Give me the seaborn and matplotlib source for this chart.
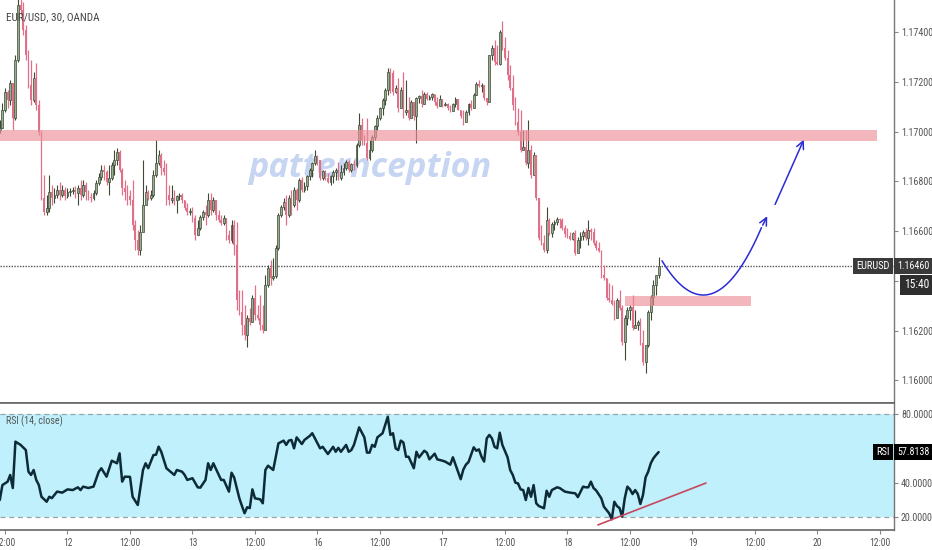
import numpy as np
import matplotlib
matplotlib.use("Agg")
import matplotlib.pyplot as plt
import matplotlib.transforms as mtransforms
import matplotlib.font_manager as fm
from matplotlib.patches import Rectangle
import seaborn as sns

# ---------------- data ----------------
bar_start = -2
first_open = 1.17006
closes = [
    1.17014, 1.17087, 1.17159, 1.17127, 1.17195, 1.17055, 1.17288, 1.17509, 1.17489, 1.17408,
    1.17308, 1.17187, 1.17127, 1.17216, 1.17107, 1.16998, 1.16733, 1.16677, 1.16693, 1.16757,
    1.16733, 1.16745, 1.16765, 1.16745, 1.16765, 1.16741, 1.16757, 1.16761, 1.16765, 1.16753,
    1.16773, 1.16745, 1.16785, 1.16757, 1.16737, 1.16733, 1.16753, 1.16793, 1.16818, 1.16846,
    1.16838, 1.16797, 1.16814, 1.16866, 1.16886, 1.16918, 1.16846, 1.16773, 1.16757, 1.16741,
    1.16725, 1.16625, 1.16564, 1.16524, 1.16596, 1.16705, 1.16757, 1.16733, 1.16745, 1.16826,
    1.16874, 1.16906, 1.16854, 1.16838, 1.16745, 1.16725, 1.16733, 1.16725, 1.16741, 1.16745,
    1.16725, 1.16693, 1.16677, 1.16681, 1.16653, 1.16584, 1.16613, 1.16657, 1.16677, 1.16665,
    1.16725, 1.16685, 1.16725, 1.16665, 1.16645, 1.16633, 1.16653, 1.16584, 1.16564, 1.16625,
    1.16544, 1.16323, 1.16275, 1.16223, 1.16182, 1.16251, 1.16235, 1.16331, 1.16263, 1.16251,
    1.16223, 1.16202, 1.16383, 1.16452, 1.16411, 1.16420, 1.16532, 1.16665, 1.16697, 1.16717,
    1.16665, 1.16733, 1.16705, 1.16765, 1.16725, 1.16805, 1.16765, 1.16781, 1.16822, 1.16846,
    1.16874, 1.16902, 1.16886, 1.16814, 1.16842, 1.16814, 1.16797, 1.16822, 1.16838, 1.16846,
    1.16814, 1.16838, 1.16854, 1.16878, 1.16846, 1.16870, 1.16866, 1.16946, 1.17027, 1.16966,
    1.16954, 1.16894, 1.16926, 1.16978, 1.17022, 1.17055, 1.17095, 1.17127, 1.17167, 1.17240,
    1.17236, 1.17159, 1.17175, 1.17095, 1.17167, 1.17079, 1.17087, 1.17055, 1.17119, 1.17063,
    1.17135, 1.17143, 1.17111, 1.17151, 1.17131, 1.17139, 1.17151, 1.17119, 1.17103, 1.17131,
    1.17107, 1.17111, 1.17095, 1.17083, 1.17111, 1.17131, 1.17087, 1.17063, 1.17039, 1.17079,
    1.17111, 1.17095, 1.17147, 1.17191, 1.17183, 1.17187, 1.17135, 1.17119, 1.17308, 1.17336,
    1.17280, 1.17272, 1.17400, 1.17336, 1.17296, 1.17228, 1.17175, 1.17107, 1.17039, 1.16998,
    1.16926, 1.16938, 1.16874, 1.16926, 1.16826, 1.16906, 1.16733, 1.16572, 1.16552, 1.16524,
    1.16645, 1.16592, 1.16629, 1.16637, 1.16649, 1.16645, 1.16613, 1.16588, 1.16580, 1.16568,
    1.16592, 1.16512, 1.16564, 1.16580, 1.16596, 1.16572, 1.16604, 1.16596, 1.16552, 1.16532,
    1.16520, 1.16424, 1.16411, 1.16331, 1.16323, 1.16307, 1.16251, 1.16323, 1.16291, 1.16154,
    1.16251, 1.16283, 1.16295, 1.16210, 1.16223, 1.16235, 1.16150, 1.16074, 1.16142, 1.16275,
    1.16335, 1.16383, 1.16424, 1.16460,
]
highs = [
    1.17047, 1.17115, 1.17175, 1.17167, 1.17207, 1.17187, 1.17308, 1.17549, 1.17561, 1.17521,
    1.17429, 1.17328, 1.17288, 1.17240, 1.17276, 1.17127, 1.17006, 1.16826, 1.16745, 1.16826,
    1.16785, 1.16773, 1.16785, 1.16797, 1.16785, 1.16777, 1.16773, 1.16773, 1.16777, 1.16781,
    1.16785, 1.16805, 1.16805, 1.16797, 1.16765, 1.16753, 1.16765, 1.16805, 1.16834, 1.16866,
    1.16866, 1.16846, 1.16866, 1.16878, 1.16926, 1.16934, 1.16926, 1.16854, 1.16805, 1.16785,
    1.16765, 1.16805, 1.16645, 1.16604, 1.16625, 1.16886, 1.16785, 1.16765, 1.16765, 1.16846,
    1.16966, 1.16926, 1.16914, 1.16886, 1.16874, 1.16785, 1.16785, 1.16765, 1.16745, 1.16753,
    1.16753, 1.16725, 1.16713, 1.16693, 1.16697, 1.16665, 1.16645, 1.16665, 1.16685, 1.16705,
    1.16753, 1.16753, 1.16737, 1.16725, 1.16685, 1.16665, 1.16665, 1.16653, 1.16604, 1.16645,
    1.16645, 1.16637, 1.16363, 1.16363, 1.16303, 1.16263, 1.16291, 1.16343, 1.16383, 1.16303,
    1.16343, 1.16303, 1.16424, 1.16464, 1.16484, 1.16492, 1.16544, 1.16673, 1.16705, 1.16733,
    1.16745, 1.16745, 1.16765, 1.16777, 1.16773, 1.16814, 1.16818, 1.16797, 1.16826, 1.16854,
    1.16878, 1.16926, 1.16906, 1.16886, 1.16846, 1.16846, 1.16834, 1.16826, 1.16846, 1.16854,
    1.16878, 1.16866, 1.16874, 1.16886, 1.16886, 1.16874, 1.16886, 1.16954, 1.17075, 1.17055,
    1.16986, 1.17055, 1.16966, 1.16986, 1.17027, 1.17067, 1.17099, 1.17135, 1.17175, 1.17256,
    1.17256, 1.17248, 1.17187, 1.17216, 1.17179, 1.17240, 1.17207, 1.17139, 1.17127, 1.17119,
    1.17139, 1.17147, 1.17167, 1.17159, 1.17159, 1.17147, 1.17155, 1.17151, 1.17139, 1.17147,
    1.17131, 1.17119, 1.17115, 1.17107, 1.17115, 1.17139, 1.17131, 1.17087, 1.17087, 1.17087,
    1.17115, 1.17127, 1.17155, 1.17199, 1.17207, 1.17195, 1.17187, 1.17135, 1.17308, 1.17348,
    1.17368, 1.17348, 1.17408, 1.17445, 1.17380, 1.17328, 1.17268, 1.17228, 1.17139, 1.17095,
    1.17087, 1.17006, 1.17006, 1.17047, 1.16946, 1.16918, 1.16906, 1.16733, 1.16625, 1.16584,
    1.16697, 1.16653, 1.16637, 1.16645, 1.16657, 1.16653, 1.16653, 1.16625, 1.16613, 1.16596,
    1.16596, 1.16604, 1.16576, 1.16596, 1.16604, 1.16613, 1.16645, 1.16613, 1.16613, 1.16564,
    1.16556, 1.16524, 1.16464, 1.16411, 1.16391, 1.16383, 1.16323, 1.16331, 1.16363, 1.16303,
    1.16263, 1.16295, 1.16303, 1.16343, 1.16283, 1.16243, 1.16251, 1.16202, 1.16142, 1.16283,
    1.16343, 1.16403, 1.16424, 1.16496,
]
lows = [
    1.16994, 1.17027, 1.17079, 1.17095, 1.17107, 1.17006, 1.17047, 1.17280, 1.17469, 1.17388,
    1.17288, 1.17175, 1.17107, 1.17119, 1.17087, 1.16986, 1.16725, 1.16665, 1.16665, 1.16677,
    1.16705, 1.16713, 1.16733, 1.16725, 1.16737, 1.16725, 1.16733, 1.16741, 1.16749, 1.16733,
    1.16705, 1.16725, 1.16737, 1.16725, 1.16725, 1.16717, 1.16725, 1.16745, 1.16785, 1.16805,
    1.16805, 1.16785, 1.16745, 1.16805, 1.16826, 1.16866, 1.16838, 1.16745, 1.16725, 1.16705,
    1.16705, 1.16604, 1.16524, 1.16504, 1.16504, 1.16596, 1.16705, 1.16725, 1.16725, 1.16737,
    1.16818, 1.16866, 1.16826, 1.16826, 1.16705, 1.16705, 1.16713, 1.16705, 1.16673, 1.16725,
    1.16713, 1.16685, 1.16665, 1.16665, 1.16637, 1.16564, 1.16592, 1.16604, 1.16645, 1.16625,
    1.16657, 1.16665, 1.16677, 1.16645, 1.16637, 1.16625, 1.16625, 1.16564, 1.16552, 1.16552,
    1.16504, 1.16283, 1.16263, 1.16182, 1.16162, 1.16134, 1.16223, 1.16235, 1.16243, 1.16243,
    1.16202, 1.16190, 1.16202, 1.16375, 1.16383, 1.16403, 1.16411, 1.16524, 1.16657, 1.16685,
    1.16625, 1.16657, 1.16665, 1.16697, 1.16685, 1.16717, 1.16757, 1.16757, 1.16765, 1.16805,
    1.16818, 1.16866, 1.16866, 1.16805, 1.16805, 1.16805, 1.16793, 1.16785, 1.16793, 1.16805,
    1.16805, 1.16805, 1.16826, 1.16846, 1.16838, 1.16838, 1.16846, 1.16858, 1.16938, 1.16946,
    1.16946, 1.16886, 1.16886, 1.16918, 1.16966, 1.17006, 1.17047, 1.17067, 1.17107, 1.17147,
    1.17155, 1.17147, 1.17155, 1.17079, 1.17095, 1.17055, 1.17067, 1.17047, 1.17055, 1.17047,
    1.16954, 1.17115, 1.17099, 1.17111, 1.17127, 1.17127, 1.17127, 1.17107, 1.17095, 1.17103,
    1.17099, 1.17103, 1.17087, 1.17079, 1.17083, 1.17099, 1.17087, 1.17055, 1.17027, 1.17039,
    1.17067, 1.17087, 1.17095, 1.17147, 1.17179, 1.17159, 1.17127, 1.17107, 1.17119, 1.17288,
    1.17268, 1.17268, 1.17268, 1.17328, 1.17288, 1.17207, 1.17167, 1.17087, 1.17027, 1.16986,
    1.16918, 1.16926, 1.16866, 1.16854, 1.16814, 1.16826, 1.16725, 1.16564, 1.16544, 1.16516,
    1.16512, 1.16584, 1.16576, 1.16604, 1.16625, 1.16613, 1.16604, 1.16576, 1.16572, 1.16564,
    1.16564, 1.16504, 1.16512, 1.16532, 1.16564, 1.16564, 1.16544, 1.16564, 1.16544, 1.16524,
    1.16516, 1.16411, 1.16403, 1.16323, 1.16315, 1.16303, 1.16243, 1.16251, 1.16283, 1.16142,
    1.16082, 1.16223, 1.16243, 1.16202, 1.16210, 1.16202, 1.16142, 1.16062, 1.16030, 1.16134,
    1.16243, 1.16303, 1.16343, 1.16411,
]

rsi_idx = [
    -2, -1, 1, 2, 3, 4, 6, 8, 9, 10, 11, 12, 13, 14, 16, 17, 18, 20, 22, 24,
    26, 28, 29, 30, 32, 34, 36, 37, 39, 41, 43, 44, 45, 46, 48, 49, 51, 53, 54, 55,
    57, 58, 59, 60, 62, 65, 66, 68, 69, 70, 72, 74, 75, 77, 78, 79, 80, 83, 84, 86,
    87, 88, 90, 91, 92, 93, 94, 95, 96, 98, 99, 100, 101, 103, 105, 107, 108, 109, 110, 111,
    112, 114, 115, 117, 118, 121, 122, 124, 126, 127, 128, 129, 131, 132, 133, 134, 136, 138, 139, 140,
    141, 142, 143, 145, 147, 148, 149, 150, 151, 152, 153, 154, 155, 157, 158, 159, 161, 162, 163, 165,
    166, 168, 169, 171, 172, 175, 176, 177, 178, 180, 181, 182, 183, 184, 185, 186, 187, 188, 189, 190,
    191, 193, 194, 195, 196, 197, 198, 199, 200, 201, 202, 203, 204, 205, 207, 208, 209, 210, 212, 213,
    215, 217, 219, 220, 222, 223, 224, 225, 226, 227, 229, 230, 231, 232, 233, 234, 235, 236, 237, 238,
    239, 240, 241, 242, 243, 244, 245, 246, 247, 248, 249, 250, 251,
]
rsi_val = [
    29.9, 38.6, 40.6, 44.5, 36.9, 63.9, 62.0, 59.0, 46.4, 44.5, 47.4, 41.6, 38.6, 31.8, 28.9, 31.8, 31.0, 34.8, 34.2, 36.1,
    35.7, 37.3, 35.7, 37.7, 36.9, 37.7, 46.4, 48.4, 43.5, 52.8, 51.3, 57.1, 40.6, 43.5, 43.4, 31.8, 27.0, 47.4, 51.3, 48.4,
    56.1, 56.3, 61.0, 58.0, 48.4, 44.5, 47.4, 46.4, 44.5, 41.6, 42.6, 37.3, 37.1, 41.6, 51.3, 47.4, 51.3, 41.6, 41.6, 34.8,
    45.8, 43.0, 30.9, 26.4, 22.2, 25.7, 25.2, 36.1, 30.9, 30.3, 28.0, 47.4, 49.9, 47.4, 62.9, 64.5, 62.0, 64.5, 64.9, 60.0,
    66.4, 62.5, 64.9, 67.2, 68.8, 60.0, 60.9, 56.7, 60.9, 58.0, 60.3, 58.0, 62.0, 58.0, 59.0, 62.0, 72.2, 66.4, 57.5, 57.5,
    62.0, 60.9, 66.4, 68.8, 78.4, 67.8, 68.8, 60.0, 59.0, 64.5, 63.4, 55.1, 55.1, 48.4, 58.0, 54.7, 58.6, 57.5, 53.6, 56.9,
    53.6, 52.8, 52.3, 50.5, 54.8, 42.0, 47.6, 50.5, 52.0, 60.6, 58.6, 59.4, 55.1, 52.3, 65.8, 67.8, 65.8, 60.9, 60.0, 69.1,
    62.0, 54.8, 47.4, 44.5, 40.0, 39.6, 36.1, 35.7, 29.9, 36.9, 31.8, 38.6, 28.0, 26.4, 25.1, 35.3, 31.8, 35.7, 37.3, 36.9,
    34.8, 34.2, 33.8, 31.6, 37.7, 37.3, 37.3, 40.6, 36.9, 35.5, 30.9, 26.0, 24.1, 22.2, 18.7, 28.9, 26.4, 25.2, 20.2, 30.9,
    37.7, 36.1, 33.4, 35.7, 33.4, 27.6, 32.8, 43.1, 46.4, 51.3, 54.2, 56.1, 57.8138,
]

x_tick_labels = ["12:00", "12", "12:00", "13", "12:00", "16", "12:00", "17",
                 "12:00", "18", "12:00", "19", "12:00", "20", "12:00"]
bars_per_tick = 24
price_ticks = [1.160, 1.162, 1.164, 1.166, 1.168, 1.170, 1.172, 1.174]
rsi_ticks = [20, 40, 80]
rsi_band = (20, 80)
last_price = 1.16460
last_rsi = 57.8138
countdown = "15:40"

resistance_zone = (1.16962, 1.17006)   # price range
resistance_span = (-3, 334.9)          # bar range
support_zone = (1.16299, 1.16339)
support_span = (238.1, 286.5)

# projected path (annotation)
proj_start, proj_min_x, proj_min_p, proj_end = 252.3, 268.2, 1.16343, 290.5
proj_k = 5.45e-6
proj_head = (293.2, 1.16670)
proj_arrow2 = ((295.3, 1.16697), (307.2, 1.16978))
rsi_trend = ((227.7, 15.4), (269.2, 39.8))

# ---------------- styling ----------------
sns.set_theme(style="white")
avail = {f.name for f in fm.fontManager.ttflist}
narrow = next((f for f in ["Liberation Sans Narrow", "DejaVu Sans Condensed",
                           "Roboto Condensed", "Liberation Sans", "Roboto"] if f in avail),
              "DejaVu Sans")
humanist = next((f for f in ["Open Sans", "Noto Sans", "Lato"] if f in avail), "DejaVu Sans")
plt.rcParams["font.family"] = [narrow, "DejaVu Sans"]

W, H = 932, 550
fig = plt.figure(figsize=(W / 100, H / 100), dpi=100)
fig.patch.set_facecolor("white")
renderer = fig.canvas.get_renderer()


def fit_size(text, family, target_px, **kw):
    t = fig.text(0, 0, text, fontsize=10, family=family, **kw)
    w = t.get_window_extent(renderer).width
    t.remove()
    return 10 * target_px / w


tick_fs = fit_size("1.17400", narrow, 32)
xtick_fs = fit_size("12:00", narrow, 21)
box_fs = fit_size("EURUSD", narrow, 34)
title_fs = fit_size("EUR/USD, 30, OANDA", narrow, 93)
rsilab_fs = fit_size("RSI (14, close)", narrow, 57)
wm_fs = fit_size("patternception", humanist, 244, fontweight="bold", style="italic")

ax_r = 894 / W
split = 1 - 402.5 / H
ax1 = fig.add_axes([0, split, ax_r, 1 - split])
ax2 = fig.add_axes([0, 1 - 530 / H, ax_r, split - (1 - 530 / H)], sharex=ax1)

bull_fill, bull_edge, bear_col = "#9aab8e", "#3c4a36", "#e0708a"

idx = np.arange(bar_start, bar_start + len(closes))
c = np.array(closes)
o = np.array([first_open] + closes[:-1])
hi = np.maximum(np.array(highs), np.maximum(o, c))
lo = np.minimum(np.array(lows), np.minimum(o, c))
up = c >= o

# watermark
ax1.text(370 / 894, 1 - 168 / 402.5, "patternception", transform=ax1.transAxes,
         ha="center", va="center", fontsize=wm_fs, fontweight="bold", style="italic",
         color="#c6d5f2", family=humanist, zorder=0)

# candles
ax1.vlines(idx[up], lo[up], hi[up], color=bull_edge, lw=0.8, zorder=2)
ax1.vlines(idx[~up], lo[~up], hi[~up], color=bear_col, lw=0.9, zorder=2)
ax1.bar(idx[up], c[up] - o[up], bottom=o[up], width=0.72, color=bull_fill,
        edgecolor=bull_edge, linewidth=0.5, zorder=3)
ax1.bar(idx[~up], o[~up] - c[~up], bottom=c[~up], width=0.6, color=bear_col,
        edgecolor="none", zorder=3)

# zones
for (p0, p1), (x0, x1) in [(resistance_zone, resistance_span), (support_zone, support_span)]:
    ax1.add_patch(Rectangle((x0, p0), x1 - x0, p1 - p0, facecolor="#eb8f98",
                            edgecolor="none", alpha=0.65, zorder=4))

# last price line
ax1.axhline(last_price, color="#555555", lw=1.0, ls=(0, (1, 1)), zorder=1)

# projected path
blue = "#2a2ad6"
px = np.linspace(proj_start, proj_end, 60)
py = proj_min_p + proj_k * (px - proj_min_x) ** 2
ax1.plot(px, py, color=blue, lw=1.1, zorder=5)
ax1.annotate("", xy=proj_head, xytext=(px[-1], py[-1]),
             arrowprops=dict(arrowstyle="->,head_length=0.45,head_width=0.22", color=blue, lw=1.1))
ax1.annotate("", xy=proj_arrow2[1], xytext=proj_arrow2[0],
             arrowprops=dict(arrowstyle="->,head_length=0.45,head_width=0.22", color=blue, lw=1.1))

ax1.set_xlim(-5 / 2.604, 889 / 2.604)
ax1.set_ylim(1.15911, 1.17529)

# RSI panel
ax2.axhspan(rsi_band[0], rsi_band[1], color="#bff0fb", zorder=0, lw=0)
for lvl in rsi_band:
    ax2.axhline(lvl, color="#9aa5a8", lw=0.9, ls=(0, (4, 3)), zorder=1)
sns.lineplot(x=rsi_idx, y=rsi_val, ax=ax2, color="#0d2b37", linewidth=1.8,
             estimator=None, sort=False, zorder=3)
ax2.plot([rsi_trend[0][0], rsi_trend[1][0]], [rsi_trend[0][1], rsi_trend[1][1]],
         color="#c9475e", lw=1.2, zorder=4)
ax2.set_ylim(12.44, 86.7)
ax2.set_xlabel("")
ax2.set_ylabel("")

# axes cosmetics
for ax in (ax1, ax2):
    ax.set_facecolor("white")
    ax.yaxis.tick_right()
    ax.spines["left"].set_visible(False)
    ax.spines["right"].set_color("#777777")
    ax.spines["right"].set_linewidth(1.0)
    ax.tick_params(axis="y", direction="out", length=3, width=0.8, color="#888888",
                   labelsize=tick_fs, labelcolor="#555555", pad=2)
ax1.spines["top"].set_visible(False)
ax1.spines["bottom"].set_color("#666666")
ax1.spines["bottom"].set_linewidth(1.2)
ax2.spines["top"].set_color("#666666")
ax2.spines["top"].set_linewidth(1.2)
ax2.spines["bottom"].set_color("#666666")
ax2.spines["bottom"].set_linewidth(1.2)

ax1.set_yticks(price_ticks)
ax1.set_yticklabels([f"{t:.5f}" for t in price_ticks])
ax1.tick_params(axis="x", bottom=False, labelbottom=False)

ax2.set_yticks(rsi_ticks)
ax2.set_yticklabels([f"{t:.4f}" for t in rsi_ticks])
ax2.set_xticks([k * bars_per_tick for k in range(len(x_tick_labels))])
ax2.set_xticklabels(x_tick_labels)
ax2.tick_params(axis="x", direction="out", length=3, width=0.8, color="#888888",
                labelsize=xtick_fs, labelcolor="#555555", pad=3, bottom=True)

# label boxes
tr1 = mtransforms.blended_transform_factory(ax1.transAxes, ax1.transData)
tr2 = mtransforms.blended_transform_factory(ax2.transAxes, ax2.transData)
box_kw = dict(boxstyle="square,pad=0.3", ec="none")
ax1.text(1 - 4 / 894, last_price, "EURUSD", transform=tr1, ha="right", va="center",
         fontsize=box_fs, color="white", zorder=10, bbox=dict(fc="#3a3a3a", **box_kw))
ax1.text(1 + 3 / 894, last_price, f"{last_price:.5f}", transform=tr1, ha="left", va="center",
         fontsize=tick_fs, color="white", zorder=10, clip_on=False,
         bbox=dict(fc="#3a3a3a", **box_kw))
fig.text(929 / W, 1 - 285 / H, countdown, ha="right", va="center", fontsize=box_fs * 1.1,
         color="white", bbox=dict(fc="#2e2e2e", **box_kw))
ax2.text(1 - 4 / 894, last_rsi, "RSI", transform=tr2, ha="right", va="center",
         fontsize=box_fs, color="white", zorder=10, bbox=dict(fc="black", **box_kw))
ax2.text(1 + 3 / 894, last_rsi, f"{last_rsi:.4f}", transform=tr2, ha="left", va="center",
         fontsize=tick_fs, color="white", zorder=10, clip_on=False,
         bbox=dict(fc="black", **box_kw))

# titles
fig.text(6 / W, 1 - 17 / H, "EUR/USD, 30, OANDA", ha="left", va="center", fontsize=title_fs,
         color="#444444", family=narrow)
fig.text(6 / W, 1 - 421 / H, "RSI (14, close)", ha="left", va="center", fontsize=rsilab_fs,
         color="#555555", family=narrow)

fig.savefig("out.png", dpi=100, facecolor="white")
